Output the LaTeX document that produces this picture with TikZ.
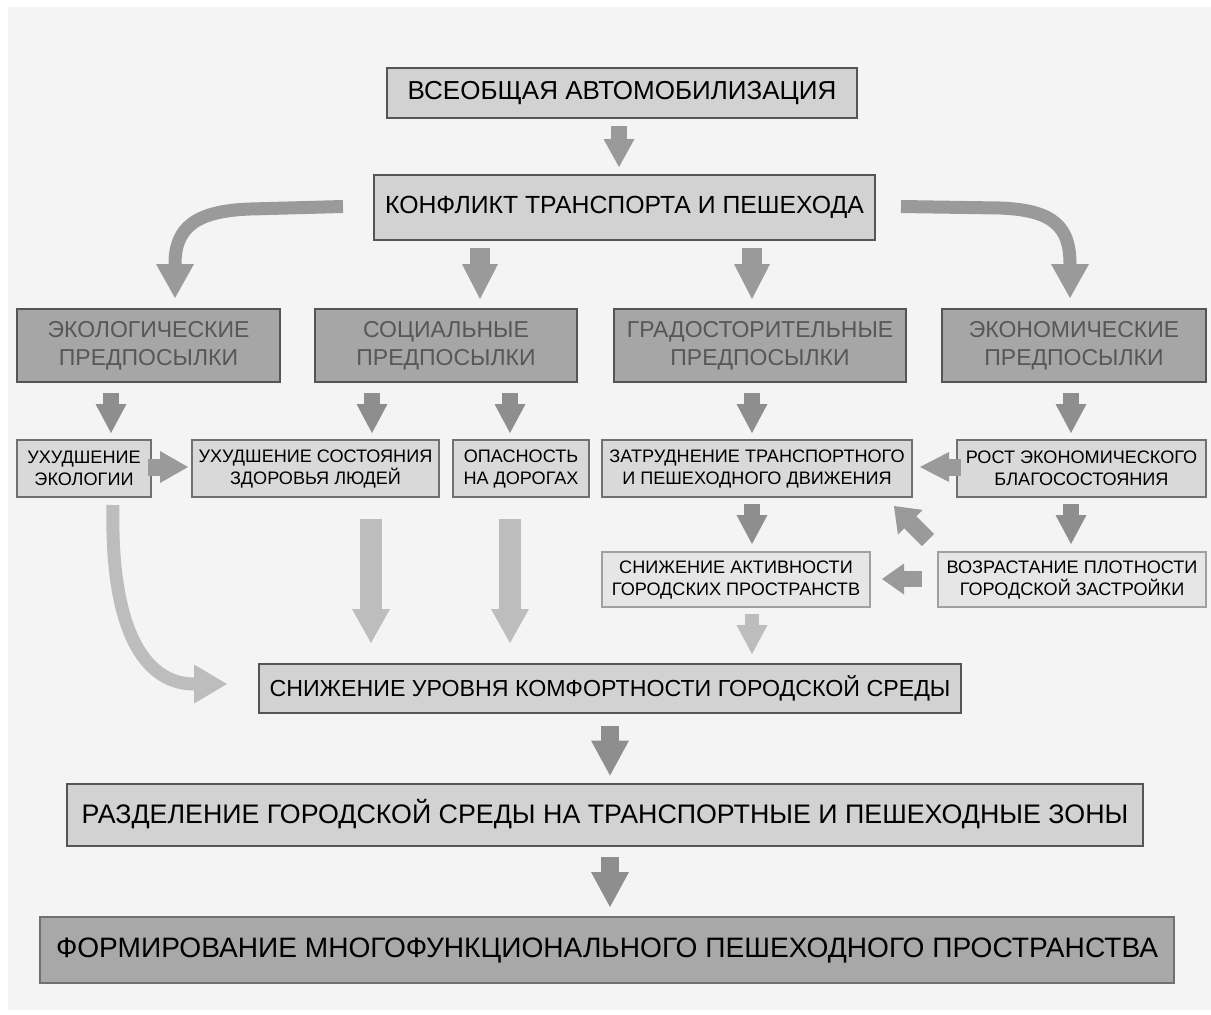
\documentclass[tikz,border=0pt]{standalone}
\usepackage{fontspec}
\setmainfont{Liberation Sans}
\usetikzlibrary{arrows.meta,calc}
\definecolor{bgpanel}{HTML}{F4F4F4}
\definecolor{boxA}{HTML}{D2D2D2}
\definecolor{boxB}{HTML}{D9D9D9}
\definecolor{boxC}{HTML}{E6E6E6}
\definecolor{boxCat}{HTML}{A6A6A6}
\definecolor{boxEnd}{HTML}{A8A8A8}
\definecolor{bdDark}{HTML}{555555}
\definecolor{bdMid}{HTML}{707070}
\definecolor{bdLight}{HTML}{A0A0A0}
\definecolor{txtCat}{HTML}{575757}
\definecolor{arDark}{HTML}{8E8E8E}
\definecolor{arMid}{HTML}{9A9A9A}
\definecolor{arLight}{HTML}{BDBDBD}
\begin{document}
\begin{tikzpicture}[x=0.5pt,y=-0.5pt,
  basebox/.style={inner sep=0pt, align=center, line width=1pt},
  bigbox/.style={basebox, draw=bdDark, fill=boxA, font=\fontsize{12.8pt}{15pt}\selectfont},
  catbox/.style={basebox, draw=bdDark, fill=boxCat, text=txtCat, minimum height=36.5pt, font=\fontsize{11.5pt}{14.2pt}\selectfont},
  smallbox/.style={basebox, draw=bdMid, fill=boxB, minimum height=28.5pt, font=\fontsize{9.05pt}{11pt}\selectfont},
  lightbox/.style={basebox, draw=bdLight, fill=boxC, minimum height=27.5pt, font=\fontsize{9.05pt}{11pt}\selectfont},
  endbox/.style={basebox, draw=bdMid, fill=boxEnd, font=\fontsize{14.05pt}{17pt}\selectfont},
  barrow/.style n args={4}{draw=#1, line width=#2, -{Triangle[length=#4, width=#3, line width=0pt]}},
]
% canvas and panel
\useasboundingbox (0,0) rectangle (1211,1014);
\fill[white] (0,0) rectangle (1211,1014);
\fill[bgpanel] (8,7) rectangle (1211,1010);

% boxes
\node[bigbox, minimum width=235pt, minimum height=25pt, font=\fontsize{13pt}{15pt}\selectfont] (b1) at (622,93) {ВСЕОБЩАЯ АВТОМОБИЛИЗАЦИЯ};
\node[bigbox, minimum width=250.5pt, minimum height=32.5pt, font=\fontsize{12.4pt}{15pt}\selectfont] (b2) at (624.5,207.5) {КОНФЛИКТ ТРАНСПОРТА И ПЕШЕХОДА};

\node[catbox, minimum width=131.5pt] (eco) at (148.5,345.5) {ЭКОЛОГИЧЕСКИЕ\\ПРЕДПОСЫЛКИ};
\node[catbox, minimum width=131pt] (soc) at (446,345.5) {СОЦИАЛЬНЫЕ\\ПРЕДПОСЫЛКИ};
\node[catbox, minimum width=146pt] (grad) at (760,345.5) {ГРАДОСТОРИТЕЛЬНЫЕ\\ПРЕДПОСЫЛКИ};
\node[catbox, minimum width=132pt] (econ) at (1074,345.5) {ЭКОНОМИЧЕСКИЕ\\ПРЕДПОСЫЛКИ};

\node[smallbox, minimum width=67pt] (ux) at (84,468.5) {УХУДШЕНИЕ\\ЭКОЛОГИИ};
\node[smallbox, minimum width=123.5pt] (zdr) at (315.5,468.5) {УХУДШЕНИЕ СОСТОЯНИЯ\\ЗДОРОВЬЯ ЛЮДЕЙ};
\node[smallbox, minimum width=68pt] (opas) at (521,468.5) {ОПАСНОСТЬ\\НА ДОРОГАХ};
\node[smallbox, minimum width=155pt] (zatr) at (757,468.5) {ЗАТРУДНЕНИЕ ТРАНСПОРТНОГО\\И ПЕШЕХОДНОГО ДВИЖЕНИЯ};
\node[smallbox, minimum width=124.5pt] (rost) at (1081.5,468.5) {РОСТ ЭКОНОМИЧЕСКОГО\\БЛАГОСОСТОЯНИЯ};

\node[lightbox, minimum width=134pt] (snizh) at (736,579.5) {СНИЖЕНИЕ АКТИВНОСТИ\\ГОРОДСКИХ ПРОСТРАНСТВ};
\node[lightbox, minimum width=134pt] (vozr) at (1072,579.5) {ВОЗРАСТАНИЕ ПЛОТНОСТИ\\ГОРОДСКОЙ ЗАСТРОЙКИ};

\node[bigbox, minimum width=351pt, minimum height=24.5pt, font=\fontsize{11.6pt}{14pt}\selectfont] (komf) at (610,688.5) {СНИЖЕНИЕ УРОВНЯ КОМФОРТНОСТИ ГОРОДСКОЙ СРЕДЫ};
\node[bigbox, minimum width=538pt, minimum height=31pt, font=\fontsize{13.4pt}{16pt}\selectfont] (razd) at (605,814.5) {РАЗДЕЛЕНИЕ ГОРОДСКОЙ СРЕДЫ НА ТРАНСПОРТНЫЕ И ПЕШЕХОДНЫЕ ЗОНЫ};
\node[endbox, minimum width=567pt, minimum height=33pt] (form) at (607,950) {ФОРМИРОВАНИЕ МНОГОФУНКЦИОНАЛЬНОГО ПЕШЕХОДНОГО ПРОСТРАНСТВА};

% arrows: top
\draw[barrow={arMid}{7.75pt}{15.5pt}{14pt}] ($(619,0 |- b1.south)+(0,7)$) -- ($(619,0 |- b2.north)+(0,-7)$);
\draw[barrow={arMid}{6.5pt}{19pt}{17pt}] ($(b2.west)+(-30,-1)$) -- (250,209) .. controls (195,211) and (175,228) .. ($(175,0 |- eco.north)+(0,-10)$);
\draw[barrow={arMid}{10pt}{18pt}{17.5pt}] ($(480,0 |- b2.south)+(0,7)$) -- ($(480,0 |- soc.north)+(0,-9)$);
\draw[barrow={arMid}{10pt}{18pt}{17.5pt}] ($(752,0 |- b2.south)+(0,7)$) -- ($(752,0 |- grad.north)+(0,-9)$);
\draw[barrow={arMid}{6.5pt}{19pt}{17pt}] ($(b2.east)+(25,-1)$) -- (1000,208) .. controls (1055,210) and (1070,228) .. ($(1070,0 |- econ.north)+(0,-10)$);

% arrows: categories to effects
\draw[barrow={arDark}{8pt}{15.5pt}{14.5pt}] ($(111,0 |- eco.south)+(0,10)$) -- ($(111,0 |- ux.north)+(0,-6)$);
\draw[barrow={arDark}{8pt}{15.5pt}{14.5pt}] ($(372,0 |- soc.south)+(0,10)$) -- ($(372,0 |- zdr.north)+(0,-6)$);
\draw[barrow={arDark}{8pt}{15.5pt}{14.5pt}] ($(510,0 |- soc.south)+(0,10)$) -- ($(510,0 |- opas.north)+(0,-6)$);
\draw[barrow={arDark}{8pt}{15.5pt}{14.5pt}] ($(752,0 |- grad.south)+(0,10)$) -- ($(752,0 |- zatr.north)+(0,-6)$);
\draw[barrow={arDark}{8pt}{15.5pt}{14.5pt}] ($(1071,0 |- econ.south)+(0,10)$) -- ($(1071,0 |- rost.north)+(0,-6)$);

% horizontal and diagonal arrows
\draw[barrow={arMid}{8.5pt}{16pt}{14pt}] ($(ux.east |- 0,467)+(-4,0)$) -- ($(zdr.west |- 0,467)+(-3,0)$);
\draw[barrow={arMid}{8.5pt}{15pt}{14.5pt}] ($(rost.west |- 0,467)+(5,0)$) -- ($(zatr.east |- 0,467)+(7,0)$);
\draw[barrow={arDark}{8pt}{15.5pt}{14.5pt}] ($(752,0 |- zatr.south)+(0,6)$) -- ($(752,0 |- snizh.north)+(0,-7)$);
\draw[barrow={arDark}{8pt}{15.5pt}{14.5pt}] ($(1071,0 |- rost.south)+(0,6)$) -- ($(1071,0 |- vozr.north)+(0,-7)$);
\draw[barrow={arMid}{8pt}{15.5pt}{11pt}] ($(vozr.west |- 0,579)+(-15,0)$) -- ($(snizh.east |- 0,579)+(11,0)$);
\draw[barrow={arMid}{8.5pt}{17.5pt}{11.5pt}] ($(vozr.north west)+(-9,-11)$) -- ($(zatr.south east)+(-19,8)$);

% arrows to comfort box
\draw[barrow={arLight}{7pt}{15.5pt}{14.5pt}] ($(752,0 |- snizh.south)+(0,6)$) -- ($(752,0 |- komf.north)+(0,-9)$);
\draw[barrow={arLight}{11pt}{19pt}{17pt}] ($(371,0 |- zdr.south)+(0,21)$) -- ($(371,0 |- komf.north)+(0,-20)$);
\draw[barrow={arLight}{11pt}{19pt}{17pt}] ($(510,0 |- opas.south)+(0,21)$) -- ($(510,0 |- komf.north)+(0,-20)$);
\draw[barrow={arLight}{6.5pt}{19.5pt}{16.5pt}] ($(113,0 |- ux.south)+(0,7)$) .. controls (110,640) and (150,684) .. ($(komf.west)+(-31,-4.5)$);

% bottom arrows
\draw[barrow={arDark}{9pt}{19pt}{17.5pt}] ($(610,0 |- komf.south)+(0,12)$) -- ($(610,0 |- razd.north)+(0,-7)$);
\draw[barrow={arDark}{9pt}{19pt}{17.5pt}] ($(610,0 |- razd.south)+(0,10)$) -- ($(610,0 |- form.north)+(0,-9)$);
\end{tikzpicture}
\end{document}
